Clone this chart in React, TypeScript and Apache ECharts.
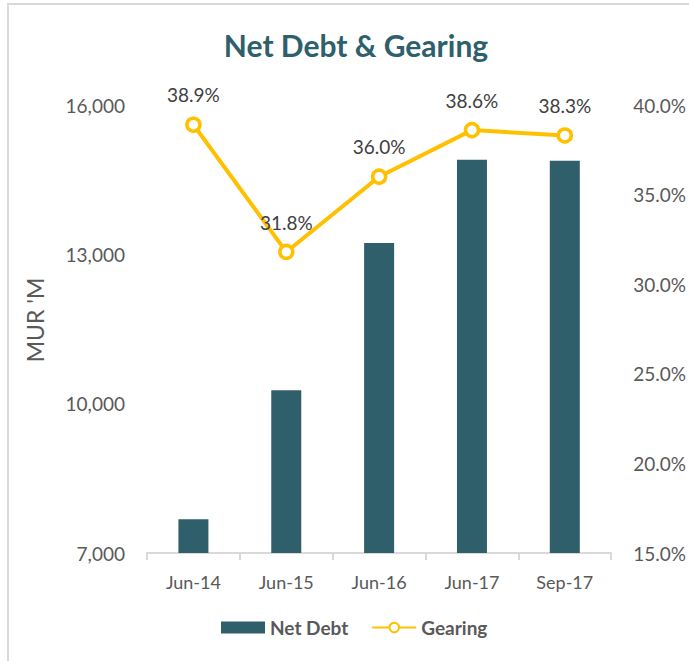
import React, { useEffect, useRef } from "react";
import * as echarts from "echarts";

const categories = ["Jun-14", "Jun-15", "Jun-16", "Jun-17", "Sep-17"];
const netDebt = [7680, 10270, 13230, 14900, 14880];
const gearing = [38.9, 31.8, 36.0, 38.6, 38.3];

const FONT = "Lato, 'Open Sans', sans-serif";

export default function App() {
  const ref = useRef<HTMLDivElement>(null);
  useEffect(() => {
    document.body.style.margin = "0";
    const chart = echarts.init(ref.current!, undefined, { renderer: "svg" });
    chart.setOption({
      animation: false,
      backgroundColor: "#ffffff",
      textStyle: { fontFamily: FONT },
      title: {
        text: "Net Debt & Gearing",
        left: 351,
        textAlign: "center",
        top: 25,
        textStyle: { color: "#2e5f6b", fontSize: 30, fontWeight: "bold", fontFamily: FONT },
      },
      graphic: [
        { type: "line", shape: { x1: 7, y1: 4, x2: 689, y2: 4 }, style: { stroke: "#d9d9d9", lineWidth: 2 } },
        { type: "line", shape: { x1: 8, y1: 4, x2: 8, y2: 661 }, style: { stroke: "#d9d9d9", lineWidth: 2 } },
      ],
      grid: { left: 147, right: 74, top: 105, bottom: 108 },
      legend: {
        bottom: 19,
        left: 216,
        itemWidth: 44,
        itemHeight: 12,
        itemGap: 23,
        textStyle: { color: "#595959", fontSize: 19, fontWeight: "bold", fontFamily: FONT },
        data: [
          { name: "Net Debt", icon: "rect" },
          { name: "Gearing" },
        ],
      },
      xAxis: {
        type: "category",
        data: categories,
        axisLine: { lineStyle: { color: "#d9d9d9", width: 2 } },
        axisTick: { show: true, length: 7, lineStyle: { color: "#d9d9d9", width: 2 } },
        axisLabel: { color: "#595959", fontSize: 18, margin: 20, fontFamily: FONT },
      },
      yAxis: [
        {
          type: "value",
          min: 7000,
          max: 16000,
          interval: 3000,
          name: "MUR 'M",
          nameLocation: "middle",
          nameGap: 101,
          nameRotate: 90,
          nameTextStyle: { color: "#595959", fontSize: 23, fontFamily: FONT, padding: [0, 0, 0, 18] },
          axisLine: { show: false },
          axisTick: { show: false },
          splitLine: { show: false },
          axisLabel: {
            color: "#595959",
            fontSize: 19,
            margin: 22,
            fontFamily: FONT,
            formatter: (v: number) => v.toLocaleString("en-US"),
          },
        },
        {
          type: "value",
          min: 15,
          max: 40,
          interval: 5,
          position: "right",
          axisLine: { show: false },
          axisTick: { show: false },
          splitLine: { show: false },
          axisLabel: {
            color: "#595959",
            fontSize: 19,
            margin: 22,
            fontFamily: FONT,
            formatter: (v: number) => v.toFixed(1) + "%",
          },
        },
      ],
      series: [
        {
          name: "Net Debt",
          type: "bar",
          data: netDebt,
          barWidth: 30,
          itemStyle: { color: "#2e5f6b" },
        },
        {
          name: "Gearing",
          type: "line",
          yAxisIndex: 1,
          data: gearing,
          symbol: "circle",
          symbolSize: 13,
          lineStyle: { color: "#ffc000", width: 4 },
          itemStyle: { color: "#ffffff", borderColor: "#ffc000", borderWidth: 3.5 },
          label: {
            show: true,
            position: "top",
            distance: 12,
            color: "#404040",
            fontSize: 19,
            fontFamily: FONT,
            formatter: (p: any) => p.value.toFixed(1) + "%",
          },
        },
      ],
    });
    return () => chart.dispose();
  }, []);
  return <div ref={ref} style={{ width: 689, height: 661, position: "absolute", left: 0, top: 0 }} />;
}
